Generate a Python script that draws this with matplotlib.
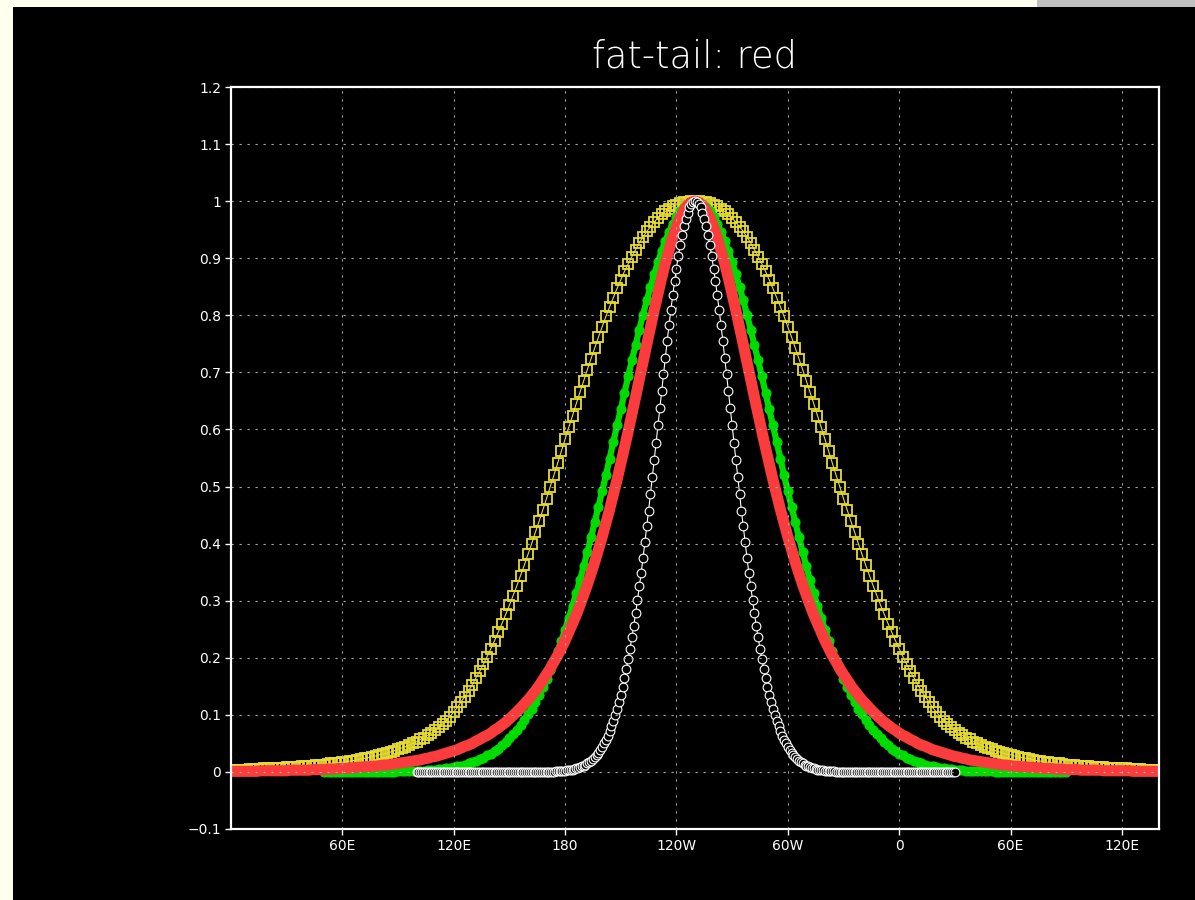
import numpy as np
import matplotlib
matplotlib.use("Agg")
import matplotlib.pyplot as plt
from matplotlib.patches import Rectangle

# ---------------- text / axes ----------------
title = "fat-tail: red"
x_ticks = [60, 120, 180, 240, 300, 360, 420, 480]
x_ticklabels = ["60E", "120E", "180", "120W", "60W", "0", "60E", "120E"]
y_ticks = [-0.1, 0, 0.1, 0.2, 0.3, 0.4, 0.5, 0.6, 0.7, 0.8, 0.9, 1.0, 1.1, 1.2]
y_ticklabels = ["\u22120.1", "0", "0.1", "0.2", "0.3", "0.4", "0.5", "0.6",
                "0.7", "0.8", "0.9", "1", "1.1", "1.2"]
x_range = (0, 500)
y_range = (-0.1, 1.2)

# ---------------- data ----------------
# yellow: open squares, longitude 0..500 every 2 deg
yellow_lon_start, yellow_lon_step = 0, 2
yellow_vals = [
 0.004, 0.004, 0.004, 0.004, 0.004, 0.005, 0.005, 0.005, 0.005, 0.006,
 0.006, 0.006, 0.007, 0.007, 0.007, 0.008, 0.008, 0.009, 0.009, 0.010,
 0.010, 0.011, 0.011, 0.012, 0.013, 0.013, 0.014, 0.015, 0.016, 0.016,
 0.017, 0.018, 0.019, 0.020, 0.021, 0.023, 0.024, 0.025, 0.027, 0.028,
 0.030, 0.031, 0.033, 0.035, 0.037, 0.040, 0.042, 0.044, 0.047, 0.050,
 0.053, 0.057, 0.060, 0.064, 0.068, 0.073, 0.078, 0.084, 0.090, 0.097,
 0.105, 0.113, 0.123, 0.132, 0.142, 0.153, 0.165, 0.176, 0.189, 0.202,
 0.216, 0.230, 0.245, 0.260, 0.276, 0.292, 0.309, 0.326, 0.344, 0.362,
 0.381, 0.400, 0.420, 0.439, 0.459, 0.479, 0.500, 0.520, 0.541, 0.562,
 0.583, 0.604, 0.624, 0.645, 0.665, 0.685, 0.705, 0.724, 0.743, 0.762,
 0.780, 0.798, 0.815, 0.831, 0.847, 0.862, 0.877, 0.890, 0.903, 0.915,
 0.927, 0.937, 0.947, 0.955, 0.963, 0.971, 0.977, 0.982, 0.987, 0.991,
 0.994, 0.996, 0.998, 0.999, 1.000,
 1.000,
 1.000, 0.999, 0.998, 0.996, 0.994,
 0.991, 0.987, 0.982, 0.977, 0.971, 0.963, 0.955, 0.947, 0.937, 0.927,
 0.915, 0.903, 0.890, 0.877, 0.862, 0.847, 0.831, 0.815, 0.798, 0.780,
 0.762, 0.743, 0.724, 0.705, 0.685, 0.665, 0.645, 0.624, 0.604, 0.583,
 0.562, 0.541, 0.520, 0.500, 0.479, 0.459, 0.439, 0.420, 0.400, 0.381,
 0.362, 0.344, 0.326, 0.309, 0.292, 0.276, 0.260, 0.245, 0.230, 0.216,
 0.202, 0.189, 0.176, 0.165, 0.153, 0.142, 0.132, 0.123, 0.113, 0.105,
 0.097, 0.090, 0.084, 0.078, 0.073, 0.068, 0.064, 0.060, 0.057, 0.053,
 0.050, 0.047, 0.044, 0.042, 0.040, 0.037, 0.035, 0.033, 0.031, 0.030,
 0.028, 0.027, 0.025, 0.024, 0.023, 0.021, 0.020, 0.019, 0.018, 0.017,
 0.016, 0.016, 0.015, 0.014, 0.013, 0.013, 0.012, 0.011, 0.011, 0.010,
 0.010, 0.009, 0.009, 0.008, 0.008, 0.007, 0.007, 0.007, 0.006, 0.006,
 0.006, 0.005, 0.005, 0.005, 0.005, 0.004, 0.004, 0.004, 0.004, 0.004,
]

# green: closed circles, longitude 50..450 every 2 deg
green_lon_start, green_lon_step = 50, 2
green_vals = [
 0, 0, 0, 0, 0, 0, 0, 0, 0, 0, 0, 0, 0, 0, 0, 0, 0, 0, 0, 0,
 0.001, 0.001, 0.001, 0.001, 0.001, 0.002, 0.002, 0.002, 0.003, 0.003,
 0.004, 0.005, 0.005, 0.006, 0.007, 0.008, 0.010, 0.011, 0.013, 0.015,
 0.017, 0.019, 0.022, 0.025, 0.029, 0.032, 0.037, 0.041, 0.047, 0.052,
 0.059, 0.066, 0.073, 0.082, 0.091, 0.101, 0.111, 0.123, 0.135, 0.149,
 0.163, 0.178, 0.195, 0.212, 0.230, 0.249, 0.270, 0.291, 0.313, 0.336,
 0.360, 0.385, 0.411, 0.438, 0.465, 0.492, 0.520, 0.549, 0.578, 0.607,
 0.635, 0.664, 0.693, 0.721, 0.748, 0.775, 0.801, 0.826, 0.849, 0.872,
 0.893, 0.912, 0.930, 0.946, 0.960, 0.972, 0.982, 0.990, 0.995, 0.999,
 1.000,
 0.999, 0.995, 0.990, 0.982, 0.972, 0.960, 0.946, 0.930, 0.912, 0.893,
 0.872, 0.849, 0.826, 0.801, 0.775, 0.748, 0.721, 0.693, 0.664, 0.635,
 0.607, 0.578, 0.549, 0.520, 0.492, 0.465, 0.438, 0.411, 0.385, 0.360,
 0.336, 0.313, 0.291, 0.270, 0.249, 0.230, 0.212, 0.195, 0.178, 0.163,
 0.149, 0.135, 0.123, 0.111, 0.101, 0.091, 0.082, 0.073, 0.066, 0.059,
 0.052, 0.047, 0.041, 0.037, 0.032, 0.029, 0.025, 0.022, 0.019, 0.017,
 0.015, 0.013, 0.011, 0.010, 0.008, 0.007, 0.006, 0.005, 0.005, 0.004,
 0.003, 0.003, 0.002, 0.002, 0.002, 0.001, 0.001, 0.001, 0.001, 0.001,
 0, 0, 0, 0, 0, 0, 0, 0, 0, 0, 0, 0, 0, 0, 0, 0, 0, 0, 0, 0,
]

# red (fat tail): thick line, longitude 0..500 every 2 deg
red_lon_start, red_lon_step = 0, 2
red_vals = [
 0.001, 0.001, 0.001, 0.001, 0.001, 0.001, 0.001, 0.001, 0.002, 0.002,
 0.002, 0.002, 0.002, 0.002, 0.002, 0.002, 0.003, 0.003, 0.003, 0.003,
 0.003, 0.003, 0.004, 0.004, 0.004, 0.004, 0.005, 0.005, 0.005, 0.006,
 0.006, 0.006, 0.007, 0.007, 0.008, 0.008, 0.009, 0.009, 0.010, 0.010,
 0.011, 0.012, 0.012, 0.013, 0.014, 0.015, 0.016, 0.017, 0.018, 0.019,
 0.020, 0.021, 0.023, 0.024, 0.026, 0.027, 0.029, 0.031, 0.033, 0.035,
 0.037, 0.039, 0.042, 0.045, 0.047, 0.050, 0.054, 0.057, 0.061, 0.064,
 0.068, 0.073, 0.077, 0.082, 0.087, 0.093, 0.099, 0.105, 0.112, 0.119,
 0.126, 0.134, 0.142, 0.151, 0.161, 0.171, 0.181, 0.193, 0.204, 0.217,
 0.230, 0.245, 0.260, 0.275, 0.292, 0.310, 0.328, 0.348, 0.368, 0.390,
 0.412, 0.436, 0.460, 0.486, 0.512, 0.540, 0.568, 0.597, 0.627, 0.657,
 0.688, 0.718, 0.749, 0.779, 0.809, 0.837, 0.865, 0.891, 0.914, 0.936,
 0.955, 0.971, 0.983, 0.993, 0.998,
 1.000,
 0.998, 0.993, 0.983, 0.971, 0.955, 0.936, 0.914, 0.891, 0.865, 0.837,
 0.809, 0.779, 0.749, 0.718, 0.688, 0.657, 0.627, 0.597, 0.568, 0.540,
 0.512, 0.486, 0.460, 0.436, 0.412, 0.390, 0.368, 0.348, 0.328, 0.310,
 0.292, 0.275, 0.260, 0.245, 0.230, 0.217, 0.204, 0.193, 0.181, 0.171,
 0.161, 0.151, 0.142, 0.134, 0.126, 0.119, 0.112, 0.105, 0.099, 0.093,
 0.087, 0.082, 0.077, 0.073, 0.068, 0.064, 0.061, 0.057, 0.054, 0.050,
 0.047, 0.045, 0.042, 0.039, 0.037, 0.035, 0.033, 0.031, 0.029, 0.027,
 0.026, 0.024, 0.023, 0.021, 0.020, 0.019, 0.018, 0.017, 0.016, 0.015,
 0.014, 0.013, 0.012, 0.012, 0.011, 0.010, 0.010, 0.009, 0.009, 0.008,
 0.008, 0.007, 0.007, 0.006, 0.006, 0.006, 0.005, 0.005, 0.005, 0.004,
 0.004, 0.004, 0.004, 0.003, 0.003, 0.003, 0.003, 0.003, 0.003, 0.002,
 0.002, 0.002, 0.002, 0.002, 0.002, 0.002, 0.002, 0.001, 0.001, 0.001,
 0.001, 0.001, 0.001, 0.001, 0.001,
]

# white: open circles, longitude 100..390 every 1 deg
white_lon_start, white_lon_step = 100, 1
white_vals = [
 0, 0, 0, 0, 0, 0, 0, 0, 0, 0, 0, 0, 0, 0, 0, 0, 0, 0, 0, 0, 0, 0, 0, 0, 0,
 0, 0, 0, 0, 0, 0, 0, 0, 0, 0, 0, 0, 0, 0, 0, 0, 0, 0, 0, 0, 0, 0, 0, 0, 0,
 0, 0, 0, 0, 0, 0, 0, 0, 0, 0, 0, 0, 0, 0, 0, 0, 0, 0, 0, 0, 0, 0, 0, 0, 0,
 0.001, 0.001, 0.001, 0.002, 0.002, 0.002, 0.003, 0.003, 0.004, 0.004,
 0.005, 0.006, 0.007, 0.008, 0.010, 0.011, 0.013, 0.015, 0.017, 0.020,
 0.023, 0.026, 0.030, 0.034, 0.039, 0.044, 0.050, 0.056, 0.063, 0.071,
 0.080, 0.089, 0.099, 0.110, 0.122, 0.135, 0.149, 0.164, 0.181, 0.198,
 0.216, 0.236, 0.256, 0.278, 0.301, 0.325, 0.349, 0.375, 0.402, 0.430,
 0.458, 0.487, 0.516, 0.546, 0.576, 0.607, 0.637, 0.667, 0.697, 0.726,
 0.755, 0.783, 0.810, 0.835, 0.860, 0.882, 0.904, 0.923, 0.941, 0.956,
 0.969, 0.980, 0.989, 0.995, 0.999,
 1.000,
 0.999, 0.995, 0.989, 0.980, 0.969, 0.956, 0.941, 0.923, 0.904, 0.882,
 0.860, 0.835, 0.810, 0.783, 0.755, 0.726, 0.697, 0.667, 0.637, 0.607,
 0.576, 0.546, 0.516, 0.487, 0.458, 0.430, 0.402, 0.375, 0.349, 0.325,
 0.301, 0.278, 0.256, 0.236, 0.216, 0.198, 0.181, 0.164, 0.149, 0.135,
 0.122, 0.110, 0.099, 0.089, 0.080, 0.071, 0.063, 0.056, 0.050, 0.044,
 0.039, 0.034, 0.030, 0.026, 0.023, 0.020, 0.017, 0.015, 0.013, 0.011,
 0.010, 0.008, 0.007, 0.006, 0.005, 0.004, 0.004, 0.003, 0.003, 0.002,
 0.002, 0.002, 0.001, 0.001, 0.001,
 0, 0, 0, 0, 0, 0, 0, 0, 0, 0, 0, 0, 0, 0, 0, 0, 0, 0, 0, 0, 0, 0, 0, 0, 0,
 0, 0, 0, 0, 0, 0, 0, 0, 0, 0, 0, 0, 0, 0, 0, 0, 0, 0, 0, 0, 0, 0, 0, 0, 0,
 0, 0, 0, 0, 0, 0, 0, 0, 0, 0, 0, 0, 0, 0, 0,
]


def lons(start, step, vals):
    return start + step * np.arange(len(vals))


# ---------------- styling ----------------
C_YELLOW = "#E6DC32"
C_GREEN = "#00DC00"
C_RED = "#FA3C3C"
C_WHITE = "#FFFFFF"
C_GRID = "#AAAAAA"

W, H = 1195, 900
fig = plt.figure(figsize=(W / 100, H / 100), dpi=100)
fig.patch.set_facecolor("#FFFFEE")
fig.add_artist(Rectangle((13 / W, 0), 1 - 13 / W, 893 / H,
                         transform=fig.transFigure, facecolor="black",
                         edgecolor="none", zorder=-10))
fig.add_artist(Rectangle((1037 / W, 893 / H), (W - 1037) / W, 7 / H,
                         transform=fig.transFigure, facecolor="#C0C0C0",
                         edgecolor="none", zorder=-10))

ax = fig.add_axes([231 / W, 71 / H, 928 / W, 742 / H])
ax.set_facecolor("black")

ax.plot(lons(yellow_lon_start, yellow_lon_step, yellow_vals), yellow_vals,
        color=C_YELLOW, linewidth=0.8, marker="s", markersize=7.6,
        markerfacecolor="none", markeredgecolor=C_YELLOW,
        markeredgewidth=1.3, zorder=2)
ax.plot(lons(green_lon_start, green_lon_step, green_vals), green_vals,
        color=C_GREEN, linewidth=4.5, marker="o", markersize=6.3,
        markerfacecolor=C_GREEN, markeredgecolor=C_GREEN, zorder=3)
ax.plot(lons(red_lon_start, red_lon_step, red_vals), red_vals,
        color=C_RED, linewidth=8, solid_capstyle="butt", zorder=4)
ax.plot(lons(white_lon_start, white_lon_step, white_vals), white_vals,
        color=C_WHITE, linewidth=0.8, marker="o", markersize=6.3,
        markerfacecolor="black", markeredgecolor=C_WHITE,
        markeredgewidth=0.8, zorder=5)

# grid drawn above the curves (as in the reference)
for yv in y_ticks:
    ax.axhline(yv, color=C_GRID, linewidth=0.8, linestyle=(0, (2, 5.2)), zorder=6)
for xv in x_ticks:
    ax.axvline(xv, color=C_GRID, linewidth=0.8, linestyle=(0, (2, 5.2)), zorder=6)

ax.set_xlim(*x_range)
ax.set_ylim(*y_range)
ax.set_xticks(x_ticks)
ax.set_xticklabels(x_ticklabels)
ax.set_yticks(y_ticks)
ax.set_yticklabels(y_ticklabels)
ax.tick_params(colors="white", direction="out", length=4.5, width=1,
               labelsize=10, pad=2.5)
for s in ax.spines.values():
    s.set_color("white")
    s.set_linewidth(1.6)
    s.set_zorder(7)

fig.text(695 / W, 1 - 57 / H, title, ha="center", va="center",
         color="white", fontsize=26.5, fontweight="light")

fig.savefig("out.png", dpi=100, facecolor=fig.get_facecolor())
